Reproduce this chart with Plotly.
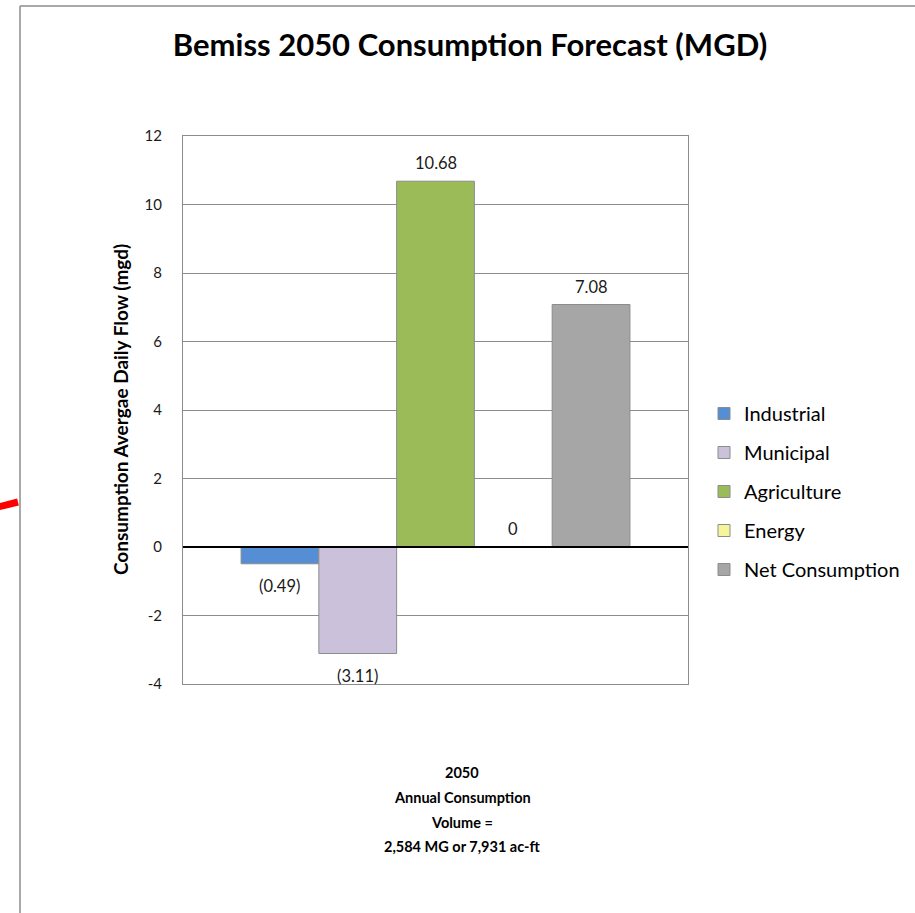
import plotly.graph_objects as go

# ---- data ----
series_names = ["Industrial", "Municipal", "Agriculture", "Energy", "Net Consumption"]
series_values = [-0.49, -3.11, 10.68, 0, 7.08]
value_labels = ["(0.49)", "(3.11)", "10.68", "0", "7.08"]
series_colors = ["#558ED5", "#CCC1DA", "#9BBB59", "#F5F599", "#A6A6A6"]
category_lines = ["2050", "Annual Consumption", "Volume =", "2,584 MG or 7,931 ac-ft"]
y_tick_vals = [-4, -2, 0, 2, 4, 6, 8, 10, 12]
y_tick_text = ["-4", "-2", "0", "2", "4", "6", "8", "10", "12"]
title_text = "Bemiss 2050 Consumption Forecast (MGD)"
y_title = "Consumption Avergae Daily Flow (mgd)"

W, H = 915, 913
L, R, T, B = 183, 688, 136, 684  # plot area in pixels
FONT = "Lato"
BARGAP = 0.23

def px(x):
    return (x - L) / (R - L)

def py(y):
    return (B - y) / (B - T)

fig = go.Figure()
for name, val, col in zip(series_names, series_values, series_colors):
    fig.add_trace(go.Bar(
        x=[0], y=[val], name=name, legendgroup=name,
        marker=dict(color=col, line=dict(color="#8C8C8C", width=1)),
        hoverinfo="y",
    ))

n = len(series_names)
w = (1 - BARGAP) / n
annotations = []
for i, (val, lab) in enumerate(zip(series_values, value_labels)):
    xoff = (i - (n - 1) / 2) * w
    annotations.append(dict(
        x=xoff, y=val, xref="x", yref="y", text=lab, showarrow=False,
        yshift=(18 if val >= 0 else -22), font=dict(family=FONT, size=16.5, color="#1a1a1a"),
    ))

# category label below the plot
for j, line in enumerate(category_lines):
    annotations.append(dict(
        x=px(462), y=py(772 + 25 * j), xref="paper", yref="paper", text=f"<b>{line}</b>",
        showarrow=False, xanchor="center", yanchor="middle",
        font=dict(family=FONT, size=14.5, color="black"),
    ))

# y-axis title
annotations.append(dict(
    x=px(120), y=0.5, xref="paper", yref="paper", text=f"<b>{y_title}</b>", textangle=-90,
    showarrow=False, xanchor="center", yanchor="middle",
    font=dict(family=FONT, size=19, color="black"),
))

shapes = [
    # outer chart border (left and top)
    dict(type="line", xref="paper", yref="paper", x0=px(20), x1=px(20), y0=py(6), y1=py(930),
         line=dict(color="#8C8C8C", width=1.5)),
    dict(type="line", xref="paper", yref="paper", x0=px(20), x1=px(930), y0=py(6), y1=py(6),
         line=dict(color="#8C8C8C", width=1.5)),
    # red stroke at left edge
    dict(type="line", xref="paper", yref="paper", x0=px(-2), x1=px(18), y0=py(507), y1=py(502),
         line=dict(color="#FF0000", width=7)),
    # zero line
    dict(type="line", xref="paper", yref="y", x0=0, x1=1, y0=0, y1=0,
         line=dict(color="black", width=2)),
]

fig.update_layout(
    width=W, height=H,
    margin=dict(l=L, r=W - R, t=T, b=H - B, autoexpand=False),
    paper_bgcolor="white", plot_bgcolor="white",
    barmode="group", bargap=BARGAP, bargroupgap=0,
    title=dict(text=f"<b>{title_text}</b>", x=px(470), xref="paper", xanchor="center",
               y=1 - 45 / H, yref="container", yanchor="middle",
               font=dict(family=FONT, size=31, color="black")),
    font=dict(family=FONT, color="black"),
    showlegend=True,
    legend=dict(x=px(704), y=py(394), xanchor="left", yanchor="top",
                font=dict(family=FONT, size=20, color="black"),
                tracegroupgap=10, traceorder="grouped", bgcolor="rgba(0,0,0,0)"),
    annotations=annotations,
    shapes=shapes,
)
fig.update_xaxes(range=[-0.5, 0.5], showticklabels=False, showgrid=False, zeroline=False,
                 showline=True, linecolor="#8C8C8C", linewidth=1, mirror=True, ticks="")
fig.update_yaxes(range=[-4, 12], tickvals=y_tick_vals, ticktext=y_tick_text,
                 showgrid=True, gridcolor="#8C8C8C", gridwidth=1, zeroline=False,
                 showline=True, linecolor="#8C8C8C", linewidth=1, mirror=True,
                 ticks="", ticklabelstandoff=17,
                 tickfont=dict(family=FONT, size=15, color="#1a1a1a"))

fig.write_html("out.html", config={"displayModeBar": False},
               post_script="document.body.style.margin='0';document.body.style.padding='0';")
